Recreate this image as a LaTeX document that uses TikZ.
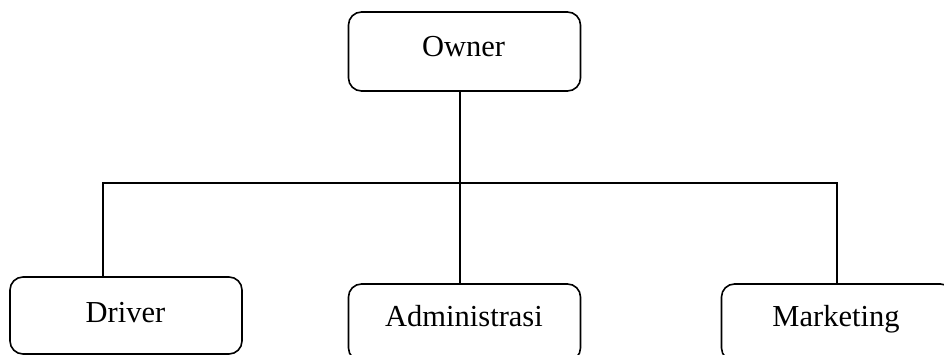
\documentclass[tikz,border=0pt]{standalone}
\usepackage{fontspec}
\setmainfont{Liberation Serif}
\begin{document}
\begin{tikzpicture}[x=1pt,y=-1pt,
  box/.style={draw=black,line width=1.6pt,rounded corners=13pt,minimum width=232pt,inner sep=0pt},
  lbl/.style={anchor=base,inner sep=0pt,font=\fontsize{30.5}{36}\selectfont},
  conn/.style={draw=black,line width=1.8pt}]
\useasboundingbox (0,0) rectangle (944,355);
\clip (0,0) rectangle (944,355);
\node[box,minimum height=79pt] (owner) at (464.5,51.5) {};
\node[box,minimum height=77pt] (driver) at (126,315.5) {};
\node[box,minimum height=77pt] (admin) at (464.5,322.5) {};
\node[box,minimum height=77pt] (marketing) at (837.5,322.5) {};
\node[lbl] (towner) at (463.5,57) {Owner};
\node[lbl] (tdriver) at (125.5,322) {Driver};
\node[lbl] (tadmin) at (464,326) {Administrasi};
\node[lbl] (tmarketing) at (836,326) {Marketing};
\coordinate (j) at (460,183);
\coordinate (hl) at (103,183);
\coordinate (hr) at (837,183);
\draw[conn] (owner.south -| j) -- (j);
\draw[conn] (j) -- (admin.north -| j);
\draw[conn] (driver.north -| hl) -- (hl) -- (hr) -- (marketing.north -| hr);
\end{tikzpicture}
\end{document}
